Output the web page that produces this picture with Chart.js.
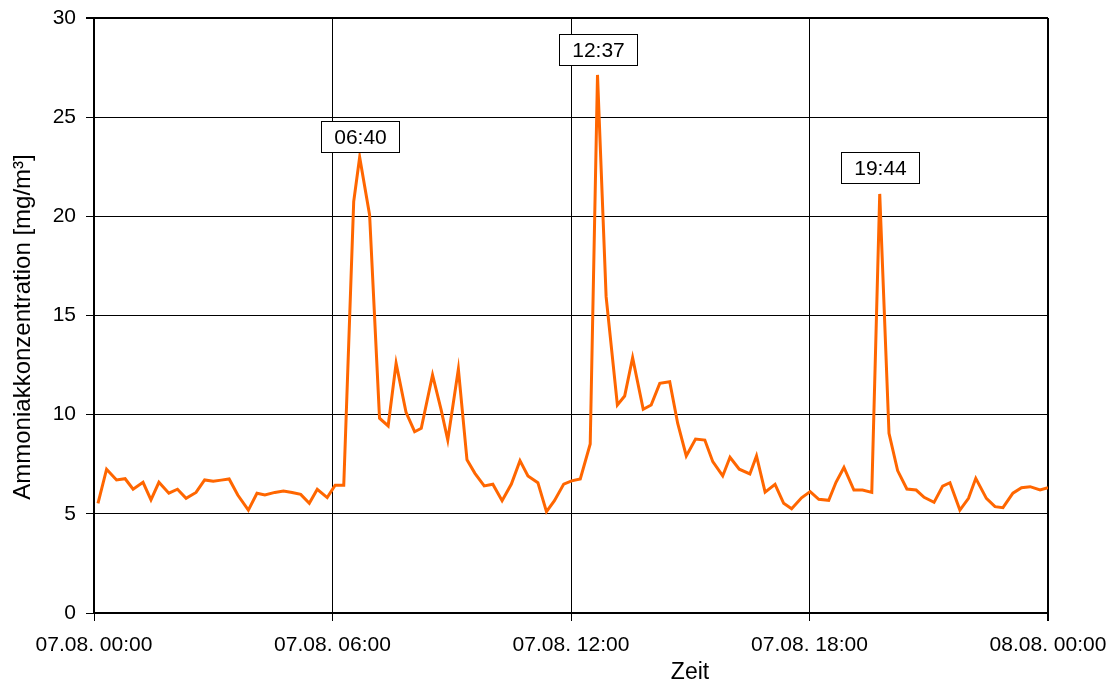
<!DOCTYPE html>
<html>
<head>
<meta charset="utf-8">
<script src="https://cdn.jsdelivr.net/npm/chart.js@4.4.0/dist/chart.umd.min.js"></script>
<style>
  html, body { margin: 0; padding: 0; background: #fff; }
  canvas { display: block; }
</style>
</head>
<body>
<canvas id="Chart" width="1115" height="682"></canvas>
<script>
// Zeit (Minuten ab 07.08. 00:00)
var minutes = [6,19,34,47,59,74,86,98,113,126,139,154,167,180,192,204,217,233,246,258,
  273,286,299,312,325,337,352,364,377,392,401,416,431,444,456,471,484,494,511,524,
  534,550,563,575,589,602,616,630,643,655,670,683,695,709,721,734,749,760,773,790,
  801,813,829,841,854,869,881,894,908,922,934,949,960,974,990,1000,1013,1028,1041,1053,
  1068,1081,1094,1109,1120,1132,1147,1160,1174,1186,1200,1213,1227,1241,1253,1268,1281,1292,1307,1320,
  1331,1347,1360,1372,1387,1400,1413,1428,1440];

// Ammoniakkonzentration [mg/m³]
var ammonia = [5.53,7.25,6.71,6.77,6.24,6.59,5.70,6.59,6.04,6.24,5.78,6.08,6.71,6.64,6.70,6.76,5.95,5.19,6.04,5.95,
  6.08,6.15,6.08,5.98,5.53,6.24,5.82,6.44,6.44,20.74,22.98,20.07,9.82,9.43,12.59,10.12,9.14,9.31,12.00,10.24,
  8.72,12.30,7.72,7.04,6.41,6.49,5.66,6.50,7.68,6.91,6.57,5.11,5.66,6.50,6.66,6.76,8.52,27.13,15.95,10.49,
  10.94,12.87,10.27,10.49,11.58,11.66,9.57,7.92,8.77,8.72,7.63,6.91,7.85,7.25,7.01,7.92,6.09,6.49,5.53,5.26,
  5.81,6.12,5.73,5.68,6.59,7.34,6.20,6.20,6.08,21.13,9.06,7.18,6.25,6.20,5.83,5.58,6.40,6.57,5.19,5.78,
  6.79,5.78,5.36,5.31,6.04,6.32,6.37,6.20,6.32];

// x axis tick labels (every 6 hours)
var xTickLabels = ['07.08. 00:00', '07.08. 06:00', '07.08. 12:00', '07.08. 18:00', '08.08. 00:00'];

// Peak labels and the point they belong to
var peakLabels = ['06:40', '12:37', '19:44'];
var peakIndex = [30, 57, 89];

var yTitle = 'Ammoniakkonzentration [mg/m³]';
var xTitle = 'Zeit';

var FONT = '"Liberation Sans", Arial, sans-serif';

var points = [];
for (var i = 0; i < minutes.length; i++) {
  points.push({ x: minutes[i], y: ammonia[i] });
}

// Draws the boxed time labels above the peaks
var peakLabelPlugin = {
  id: 'peakLabels',
  afterDatasetsDraw: function(chart) {
    var ctx = chart.ctx;
    var meta = chart.getDatasetMeta(0);
    var gaps = [5, 10, 11];
    var w = 78, h = 31;
    ctx.save();
    ctx.font = '21px ' + FONT;
    for (var i = 0; i < peakIndex.length; i++) {
      var pt = meta.data[peakIndex[i]];
      var x = Math.round(pt.x - w / 2) + 0.5;
      var y = Math.round(pt.y - gaps[i] - h) + 0.5;
      ctx.fillStyle = '#fff';
      ctx.fillRect(x, y, w, h);
      ctx.strokeStyle = '#000';
      ctx.lineWidth = 1;
      ctx.strokeRect(x, y, w, h);
      ctx.fillStyle = '#000';
      ctx.textAlign = 'center';
      ctx.textBaseline = 'middle';
      ctx.fillText(peakLabels[i], x + w / 2, y + h / 2 + 1);
    }
    ctx.restore();
  }
};

// Axis titles (x title sits right of centre in the original)
var axisTitlePlugin = {
  id: 'axisTitles',
  afterDraw: function(chart) {
    var ctx = chart.ctx;
    ctx.save();
    ctx.fillStyle = '#000';
    ctx.textAlign = 'center';
    ctx.textBaseline = 'alphabetic';
    ctx.font = '23px ' + FONT;
    ctx.fillText(xTitle, 690, 679);
    ctx.font = '24px ' + FONT;
    ctx.translate(30, 327);
    ctx.rotate(-Math.PI / 2);
    ctx.fillText(yTitle, 0, 0);
    ctx.restore();
  }
};

var chart = document.getElementById('Chart');
var myChart = new Chart(chart, {
  type: 'line',
  data: {
    datasets: [{
      label: 'NH3',
      data: points,
      borderColor: '#FF6600',
      backgroundColor: '#FF6600',
      borderWidth: 3,
      pointRadius: 0,
      tension: 0,
      fill: false
    }]
  },
  options: {
    responsive: false,
    animation: false,
    devicePixelRatio: 1,
    layout: { padding: { top: 18, right: 67, left: 0, bottom: 0 } },
    plugins: {
      legend: { display: false },
      tooltip: { enabled: false }
    },
    scales: {
      x: {
        type: 'linear',
        min: 0,
        max: 1440,
        afterFit: function(scale) {
          scale.height = 69;
          scale.paddingLeft = 0;
          scale.paddingRight = 0;
        },
        ticks: {
          stepSize: 360,
          autoSkip: false,
          maxRotation: 0,
          padding: 12,
          color: '#000',
          font: { family: FONT, size: 21 },
          callback: function(value) { return xTickLabels[value / 360]; }
        },
        grid: {
          color: '#000',
          lineWidth: function(ctx) { return ctx.tick && ctx.tick.value === 1440 ? 2 : 1; },
          tickLength: 8
        },
        border: { color: '#000', width: 2 }
      },
      y: {
        min: 0,
        max: 30,
        afterFit: function(scale) {
          scale.width = 94;
          scale.paddingTop = 0;
          scale.paddingBottom = 0;
        },
        ticks: {
          stepSize: 5,
          padding: 10,
          color: '#000',
          font: { family: FONT, size: 21 }
        },
        grid: {
          color: '#000',
          lineWidth: function(ctx) { return ctx.tick && ctx.tick.value === 30 ? 2 : 1; },
          tickLength: 8
        },
        border: { color: '#000', width: 2 }
      }
    }
  },
  plugins: [peakLabelPlugin, axisTitlePlugin]
});
</script>
</body>
</html>
